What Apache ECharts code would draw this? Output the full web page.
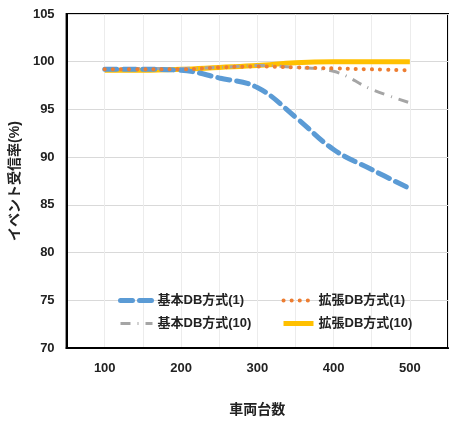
<!DOCTYPE html>
<html>
<head>
<meta charset="utf-8">
<script src="https://cdn.jsdelivr.net/npm/echarts@6/dist/echarts.min.js"></script>
<style>
html, body { margin: 0; padding: 0; background: #fff; }
#chart { width: 454px; height: 422px; }
</style>
</head>
<body>
<div id="chart"></div>
<script>
var xVals = [100, 150, 200, 250, 300, 350, 400, 450, 500];
var kihon1 = [99.2, 99.2, 99.1, 98.3, 97.3, 94.2, 90.8, 88.7, 86.7];
var kakucho1 = [99.2, 99.2, 99.2, 99.4, 99.5, 99.4, 99.3, 99.2, 99.1];
var kihon10 = [99.3, 99.3, 99.3, 99.4, 99.6, 99.4, 99.0, 97.1, 95.7];
var kakucho10 = [99.1, 99.1, 99.2, 99.4, 99.6, 99.9, 100, 100, 100];
var names = ['基本DB方式(1)', '拡張DB方式(1)', '基本DB方式(10)', '拡張DB方式(10)'];

function pairs(ys) {
    return xVals.map(function (x, i) { return [x, ys[i]]; });
}

var font = '"Liberation Sans", "Noto Sans CJK JP", sans-serif';
var chart = echarts.init(document.getElementById('chart'));
var legendText = { fontSize: 13, fontWeight: 'bold', color: '#222', fontFamily: font };

var styles = [
    { color: '#5b9bd5', width: 5, type: [12, 7], cap: 'round' },
    { color: '#ed7d31', width: 4, type: [0.1, 8], cap: 'round' },
    { color: '#a5a5a5', width: 3, type: [10, 7, 1, 7], cap: 'butt' },
    { color: '#ffc000', width: 5, type: 'solid', cap: 'butt' }
];

function legendItem(i) {
    return {
        name: names[i],
        itemStyle: { opacity: 0 },
        lineStyle: { color: styles[i].color, width: styles[i].width, type: styles[i].type, cap: styles[i].cap }
    };
}

function lineSeries(i, ys, z) {
    return {
        name: names[i],
        type: 'line',
        smooth: 0.4,
        symbol: 'none',
        data: pairs(ys),
        color: styles[i].color,
        lineStyle: { width: styles[i].width, type: styles[i].type, cap: styles[i].cap },
        z: z
    };
}

chart.setOption({
    animation: false,
    grid: {
        left: 65, right: 6, top: 14, bottom: 72,
        show: true, borderColor: '#000', borderWidth: 2
    },
    legend: [{
        data: [legendItem(0), legendItem(2)],
        orient: 'vertical',
        left: 113, top: 289,
        itemWidth: 32, itemHeight: 10, itemGap: 10,
        textStyle: legendText
    }, {
        data: [legendItem(1), legendItem(3)],
        orient: 'vertical',
        left: 276, top: 289,
        itemWidth: 30, itemHeight: 10, itemGap: 10,
        textStyle: legendText
    }],
    xAxis: {
        type: 'value',
        min: 50, max: 550, interval: 50,
        name: '車両台数',
        nameLocation: 'middle',
        nameGap: 55,
        nameTextStyle: { fontSize: 14, fontWeight: 'bold', color: '#222', fontFamily: font },
        axisLine: { lineStyle: { color: '#000', width: 2 } },
        axisTick: { show: false },
        axisLabel: {
            margin: 14, fontSize: 13, fontWeight: 'bold', color: '#222', fontFamily: font,
            formatter: function (v) { return (v % 100 === 0 && v >= 100 && v <= 500) ? v : ''; }
        },
        splitLine: { show: true, lineStyle: { color: '#ececec', width: 1 } }
    },
    yAxis: {
        type: 'value',
        min: 70, max: 105, interval: 5,
        name: 'イベント受信率(%)',
        nameLocation: 'middle',
        nameGap: 37,
        nameRotate: 90,
        nameTextStyle: { fontSize: 14, fontWeight: 'bold', color: '#222', fontFamily: font },
        axisLine: { show: true, lineStyle: { color: '#000', width: 2 } },
        axisTick: { show: false },
        axisLabel: { margin: 12, fontSize: 13, fontWeight: 'bold', color: '#222', fontFamily: font },
        splitLine: { lineStyle: { color: '#d9d9d9', width: 1 } }
    },
    series: [
        lineSeries(0, kihon1, 3),
        lineSeries(1, kakucho1, 4),
        lineSeries(2, kihon10, 2),
        lineSeries(3, kakucho10, 1)
    ]
});
</script>
</body>
</html>
